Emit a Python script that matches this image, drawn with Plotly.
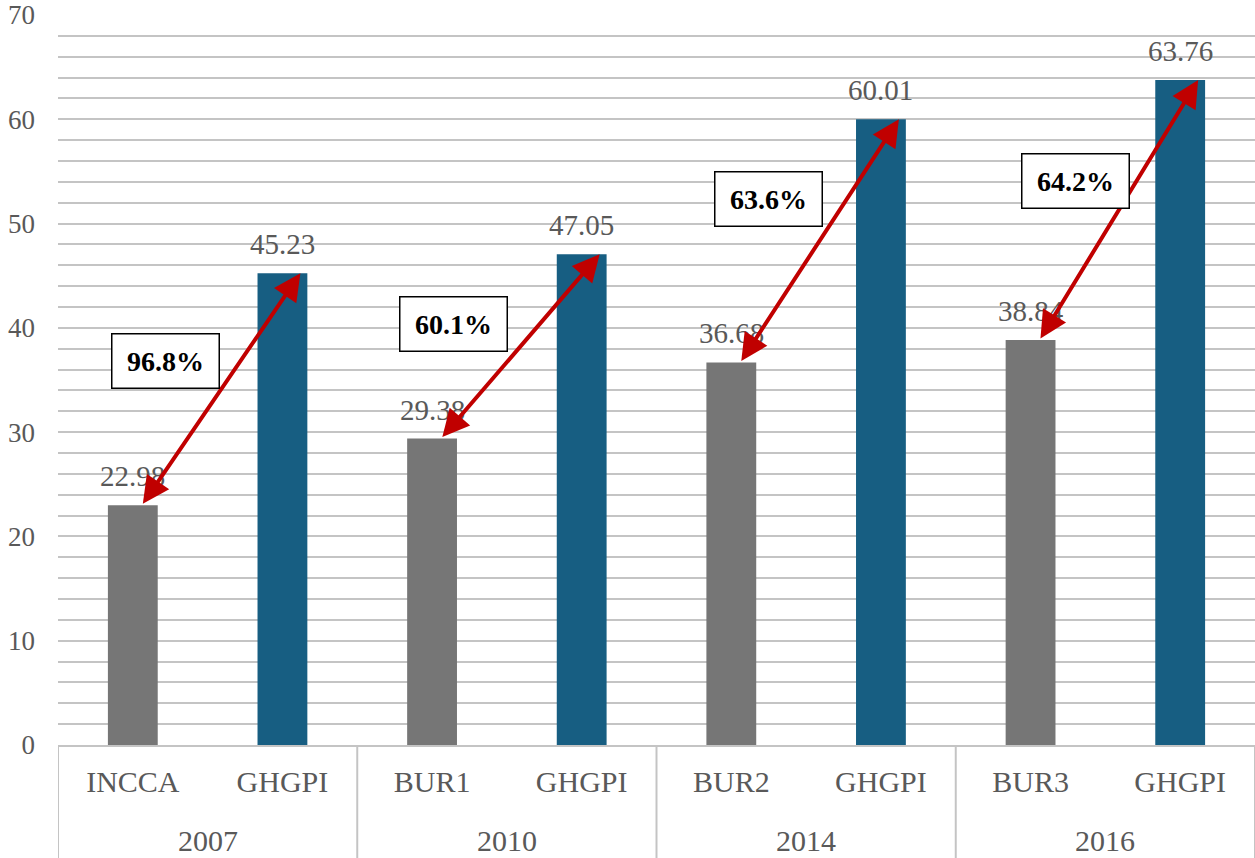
import plotly.graph_objects as go

# Emission estimates by inventory source and reporting year
groups = ["2007", "2010", "2014", "2016"]
sources = ["INCCA", "GHGPI", "BUR1", "GHGPI", "BUR2", "GHGPI", "BUR3", "GHGPI"]
values = [22.98, 45.23, 29.38, 47.05, 36.68, 60.01, 38.84, 63.76]

GRAY = "#767676"
BLUE = "#175e82"
TEXT = "#595959"
LINE = "#c4c4c4"
FONT = "Liberation Serif"

positions = list(range(len(sources)))
bar_colors = [BLUE if s == "GHGPI" else GRAY for s in sources]

fig = go.Figure(
    go.Bar(
        x=positions,
        y=values,
        marker=dict(color=bar_colors, line=dict(width=0)),
        width=0.333,
        hovertext=sources,
        hoverinfo="text+y",
    )
)

annotations = []
shapes = []

# value labels above each bar
for i, v in enumerate(values):
    annotations.append(dict(
        x=i, y=v, xref="x", yref="y", text=f"{v:.2f}", showarrow=False,
        yanchor="bottom", yshift=11,
        font=dict(family=FONT, size=29, color=TEXT),
    ))

# growth between the earlier estimate and the GHGPI estimate of the same year
box_dx = [0.22, 0.14, 0.25, 0.30]
box_y = [36.8, 40.4, 52.4, 54.1]
for k in range(len(groups)):
    g = 2 * k
    b = g + 1
    growth = (values[b] / values[g] - 1) * 100
    annotations.append(dict(
        x=b + 0.12, y=values[b], xref="x", yref="y",
        ax=g + 0.06, ay=values[g], axref="x", ayref="y",
        text="", showarrow=True, arrowside="end+start",
        arrowhead=2, startarrowhead=2, arrowsize=1.35, startarrowsize=1.35,
        arrowwidth=4, arrowcolor="#c00000", standoff=0, startstandoff=0,
    ))
    annotations.append(dict(
        x=g + box_dx[k], y=box_y[k], xref="x", yref="y",
        text=f"<b>{growth:.1f}%</b>", showarrow=False,
        font=dict(family=FONT, size=28, color="#000000"),
        bgcolor="#ffffff", bordercolor="#000000", borderwidth=1.5,
        width=106, height=53, borderpad=0,
    ))
    # year label under each pair
    annotations.append(dict(
        x=g + 0.5, y=0, xref="x", yref="paper", text=groups[k],
        showarrow=False, yanchor="middle", yshift=-95,
        font=dict(family=FONT, size=30, color=TEXT),
    ))

# divider lines framing each year group below the axis
for k in range(len(groups) + 1):
    shapes.append(dict(
        type="line", xref="x", yref="paper",
        x0=2 * k - 0.5, x1=2 * k - 0.5, y0=0, y1=-0.16,
        line=dict(color=LINE, width=2),
    ))

fig.update_layout(
    width=1255, height=858,
    margin=dict(l=58, r=0, t=15, b=113),
    paper_bgcolor="#ffffff", plot_bgcolor="#ffffff",
    showlegend=False,
    annotations=annotations,
    shapes=shapes,
    font=dict(family=FONT, color=TEXT),
)

fig.update_yaxes(
    range=[0, 70], dtick=10, tick0=0,
    showgrid=True, gridcolor=LINE, gridwidth=2,
    minor=dict(dtick=2, showgrid=True, gridcolor=LINE, gridwidth=2),
    zeroline=False, showline=False, ticks="",
    ticklabelstandoff=22,
    tickfont=dict(family=FONT, size=27, color=TEXT),
)

fig.update_xaxes(
    range=[-0.5, len(sources) - 0.5],
    tickmode="array", tickvals=positions, ticktext=sources,
    showline=True, linecolor=LINE, linewidth=2,
    ticks="", showgrid=False, zeroline=False,
    ticklabelstandoff=9,
    tickfont=dict(family=FONT, size=30, color=TEXT),
)

fig.write_html("out.html")
